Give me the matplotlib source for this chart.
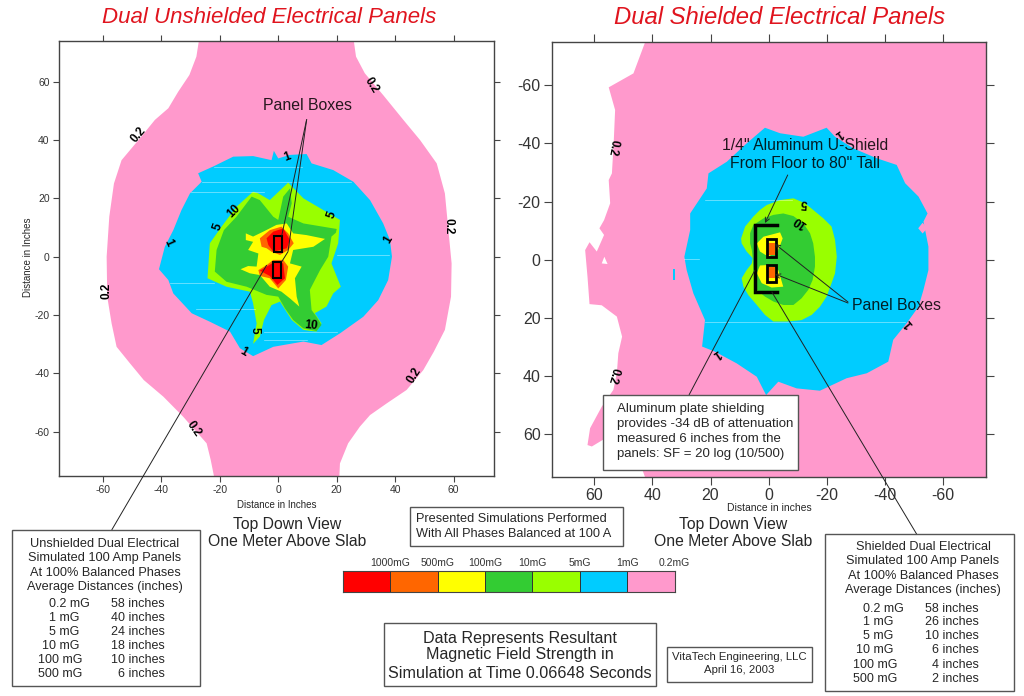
"""Simulated magnetic field contours around dual electrical panels, unshielded vs shielded."""

import matplotlib

matplotlib.use("Agg")
import matplotlib.pyplot as plt
from matplotlib.patches import Polygon, Rectangle

plt.rcParams["font.family"] = ["Liberation Sans", "DejaVu Sans"]
plt.rcParams["axes.unicode_minus"] = False

FIG_W, FIG_H = 1024, 696

LEVEL_NAMES = ["1000mG", "500mG", "100mG", "10mG", "5mG", "1mG", "0.2mG"]
LEVEL_COLORS = ["#ff0000", "#ff6600", "#ffff00", "#33cc33", "#99ff00", "#00ccff", "#ff99cc"]
RED, ORANGE, YELLOW, GREEN, LIME, BLUE, PINK = LEVEL_COLORS

TICKS = [-60, -40, -20, 0, 20, 40, 60]

# --- unshielded contours, inches ---
un_pink = [(-27, 75), (-28, 68.6), (-30.4, 62.3), (-34.2, 56.6), (-37.6, 50.9), (-42.2, 46.9),
           (-47.3, 40.6), (-53.6, 33.1), (-56.2, 25.1), (-57.8, 13.7), (-58.7, 0), (-58.5, -13.7),
           (-57, -22.9), (-55.3, -30.9), (-50.7, -36.6), (-46, -42.3), (-39.3, -48), (-32.5, -54.9),
           (-24.5, -64), (-23.1, -69.7), (-22, -75.2), (20.9, -75.2), (21.1, -70.9), (23.9, -64),
           (27.9, -58.3), (31.4, -54.3), (37.1, -50.3), (43.9, -45.7), (49.6, -38.9), (53.2, -32.6),
           (57, -25.1), (59.1, -13.7), (59.3, -2.3), (58.2, 9.1), (57, 21.7), (54.2, 32), (48.5, 40),
           (42.8, 46.9), (35.9, 55.4), (29.6, 62.9), (26.6, 68.6), (25.7, 75)]
un_blue = [(-40.8, -4.3), (-38.8, 3.4), (-35.9, 9.1), (-33.1, 16), (-30.2, 21.7), (-26.2, 25.7),
           (-27.4, 28.6), (-22.3, 30.9), (-15.4, 34.3), (-8.6, 34.5), (-2.3, 33.1), (-1.5, 36.3),
           (0, 33.7), (4, 34.9), (9.7, 35.2), (11.4, 32), (18.8, 29.7), (25.7, 25.7), (31.4, 19.4),
           (35.9, 11.4), (38.2, 5.7), (38.9, 0), (37.6, -8), (34.2, -14.9), (29.1, -20.6),
           (21.1, -26.3), (14.8, -30.3), (8.6, -29.1), (-1.7, -30.9), (-8.6, -34.1), (-13.1, -31.4),
           (-16.5, -25.7), (-23.4, -22.3), (-29.6, -19.4), (-35.9, -12.6), (-37.6, -8)]
un_lime = [(-24.2, -7.4), (-23.4, 4.6), (-19.4, 10.3), (-14.3, 17.1), (-8.6, 22.3), (-6.8, 21.7),
           (-2.9, 19.4), (3.4, 25.4), (8.6, 20), (15.4, 16), (21.1, 12.6), (20.5, 4.6), (18.2, -2.3),
           (21.4, -10.3), (18.8, -12.6), (16.5, -17.1), (12.5, -19.4), (14.8, -22.9), (13, -25.7),
           (8.6, -25.1), (4.6, -21.7), (0.6, -15.4), (-2.3, -16.6), (-4.9, -21.7), (-6.3, -27.4),
           (-8.6, -29.9), (-7.4, -22.9), (-8.6, -16), (-9.7, -12), (-17.7, -10.3)]
un_green = [(-21.7, -5.1), (-21.1, 2.3), (-18.6, 9.1), (-14.3, 13.7), (-9.1, 20.6), (-6.3, 19.4),
            (-1.7, 13.7), (0, 12.6), (1.7, 20.6), (4, 23.4), (4.6, 18.3), (3.4, 13.7), (8.6, 11.4),
            (20, 9.5), (19.7, 8.2), (18.2, 6.9), (17.1, 0), (14.3, -4.6), (10.8, -11.4), (11.4, -18.3),
            (13.1, -20.6), (14.8, -23.4), (13.1, -25.5), (8.6, -24.6), (5.1, -21.7), (2.3, -17.7),
            (0, -13.7), (-4, -13.1), (-10.8, -10.3), (-17.7, -8.6)]
un_yellow = [(-11.1, 8), (-8.6, 6.9), (-5.1, 8.6), (-0.6, 10.9), (2.9, 11.4), (5.1, 8), (9.7, 7.4),
             (16, 6.1), (12, 3.4), (5.1, 2.3), (4, -2.3), (8, -3.4), (5.7, -7.4), (6.3, -13.7),
             (7.2, -17.1), (4, -14.3), (1.1, -12), (-2.9, -10.3), (-6.3, -6.3), (-9.7, -5.7),
             (-12.9, -4.3), (-10.3, -3.2), (-7.4, -3.4), (-6.8, 1.1), (-10.3, 2.3), (-8.6, 5.1),
             (-11.1, 5.7)]
un_orange_top = [(-6.3, 6.3), (-2.9, 9.1), (1.1, 10.3), (3.4, 8), (5.3, 4.6), (3.4, 2.3), (0.6, 0.6),
                 (-2.3, 1.7), (-4, 2.9), (-5.7, 3.4)]
un_red_top = [(-4, 6.3), (-1.7, 8.6), (1.7, 9.7), (4, 5.7), (2.9, 2.9), (-1.7, 1.7), (-3.4, 4)]
un_orange_low = [(-6.8, -4.6), (-4, -2.9), (-1.7, -1.1), (1.7, -1.1), (3.4, -3.4), (2.6, -8), (0, -10.9),
                 (-2.9, -7.4), (-6.3, -6.6)]
un_red_low = [(-6.3, -4.8), (-4, -3.4), (-1.1, -1.7), (1.7, -2.3), (2.3, -7.4), (-0.3, -9.7), (-2.9, -6.6)]
un_boxes = [(-1.5, 1.5, 2.8, 5.7), (-1.7, -7.4, 2.7, 5.7)]
un_streaks = [(30.9, -22, 8), (25.7, -26, 25), (22.3, -30, -5), (-9, -37, -22), (-17.8, -28, -8),
              (-25.7, -5, 20), (-28.6, -5, 10), (0.5, 20, 38)]
un_labels = [("0.2", 31.9, 58.9, -58), ("0.2", -47.7, 41.9, 50), ("0.2", 58.2, 10.5, -90),
             ("0.2", -58.7, -11.8, 90), ("0.2", 46.4, -40.8, 58), ("0.2", -29.1, -59.2, -55),
             ("1", 3.1, 34.3, 20), ("1", -37.6, 4.8, -65), ("1", 37.6, 5.9, 60), ("1", -11.7, -32.6, -30),
             ("5", 18.2, 14.5, 70), ("5", -20.8, 10.3, 70), ("5", -8, -25.4, -90),
             ("10", -15.2, 15.7, 45), ("10", 11.2, -23.7, -5)]

# --- shielded contours, inches (both axes run the other way) ---
sh_pink = [(42.5, -74.8), (46.5, -64.1), (55, -59.3), (52.8, -51.5), (53.3, -40), (53.9, -29.7),
           (55, -27.4), (54.5, -19.4), (56.6, -13.6), (58.2, -10.8), (56.6, -8.5), (59.1, -2.8),
           (61.6, -6), (63.1, -3.3), (62.3, 5.8), (61.6, 15.3), (57.4, 15.7), (52.2, 19.6),
           (50.4, 26.5), (51.7, 32.2), (52.2, 39.1), (53.4, 44.8), (57.4, 50.6), (61.4, 58),
           (62.3, 63.8), (60.8, 64.3), (57, 62), (45, 68), (42.5, 74.9), (-74.8, 74.9), (-74.8, -74.8)]
sh_holes = [(56.5, -1), (55.4, 1.5), (57.4, 1.3)]
sh_blue = [(1.3, -45.4), (-3.9, -43.5), (-11.9, -42.3), (-19.9, -45.4), (-22.8, -42.3), (-29.1, -38.3),
           (-37.1, -34.9), (-44, -32.6), (-46.9, -26.3), (-51.5, -21.7), (-54.6, -15.9), (-53.2, -13.1),
           (-54.9, -4.5), (-54.9, 3.6), (-53.2, 10.4), (-51.5, 16.2), (-47.4, 21.9), (-42.8, 27.6),
           (-41.1, 35.1), (-33.7, 39.1), (-26.8, 40.8), (-17.6, 45.1), (-9.6, 44.3), (-3.3, 42),
           (0.9, 46.6), (4.1, 40.3), (11, 35.7), (18.4, 31.7), (22.9, 29.9), (21.9, 20.8), (25.9, 11.6),
           (28.2, 3.6), (29, -1), (27, -10.2), (27, -15.9), (21.3, -24.5), (20.7, -29.7), (14.4, -33.7),
           (7.6, -40)]
sh_blue_speck = [(32.9, 3.3), (32.1, 3.3), (32.1, 7), (32.9, 7)]
sh_pink_speck = [(-51.4, -10.8), (-52.9, -12.7), (-54.5, -10.8), (-52.9, -9)]
sh_lime = [(9.5, -7.3), (8.1, -11.4), (5.3, -14.8), (3, -17.1), (0.7, -18.8), (-3.9, -20.5), (-8.5, -21.1),
           (-12.5, -19.4), (-15.3, -17.1), (-18.8, -14.2), (-21.6, -11.4), (-22.8, -6.8), (-23.4, -1),
           (-22.8, 4.7), (-21.6, 8.1), (-19.9, 12.7), (-17.6, 16.2), (-14.8, 19), (-11.3, 20.8), (-6.2, 21.3),
           (-1.6, 21.3), (1.3, 19), (4.1, 15.6), (7, 12.2), (8.7, 9.3), (9.3, 6.4), (7.6, 3.6), (5.8, 1.3),
           (5.5, -0.5), (7.6, -2.8), (9.3, -5.6)]
sh_green = [(6.4, -5.6), (6.4, -9.1), (5.3, -11.9), (1.8, -14.2), (-1.6, -15.4), (-5, -15.9), (-8.5, -15),
            (-11.9, -12.5), (-14.2, -9.1), (-15.3, -5.6), (-15.9, -1), (-15.9, 2.4), (-15.1, 7), (-13.6, 10.4),
            (-11.3, 13.3), (-8.5, 15.6), (-5, 15.6), (-1.6, 14.4), (1.3, 12.7), (4.1, 10.4), (5, 7), (5.3, 3),
            (5.5, -0.5), (5.8, -3.3)]
sh_yellow_top = [(4.1, -5.6), (1.8, -7.9), (-3.9, -9.4), (-4.8, -7.3), (-3.3, -3.3), (0.1, -1), (3, -2.8)]
sh_yellow_low = [(4.1, 4.7), (3, 2), (-0.5, 1.8), (-3.3, 3.6), (-5, 9.3), (-1, 9.6), (2.4, 8.1)]
sh_orange_top = [(0.5, -5.6), (-2.2, -5.6), (-2.2, -1.6), (0.5, -1.6)]
sh_orange_low = [(0.5, 2.6), (-2.2, 2.6), (-2.2, 6.4), (0.5, 6.4)]
sh_boxes = [(0.7, -7, -3.1, 6), (0.7, 1.8, -3.1, 6)]
sh_shield_x = [-2.7, 4.6, 4.6, -2.7]
sh_shield_y = [-11.9, -11.9, 11, 11]
sh_streaks = [(-20.5, 22, -8), (21.3, 22, -47), (-0.2, 29, 24)]
sh_labels = [("0.2", 53.6, -38.6, -100), ("0.2", 53.4, 39.9, -105), ("1", -23.9, -43.5, 215),
             ("1", -48, 21.9, 130), ("1", 17.9, 32.2, 215), ("5", -12.1, -19.6, 175), ("10", -10.8, -13.1, 145)]

unshielded_rows = [("0.2 mG", "58 inches", 90), ("1 mG", "40 inches", 79.3), ("5 mG", "24 inches", 79.3),
                   ("10 mG", "18 inches", 79.3), ("100 mG", "10 inches", 82.7), ("500 mG", "6 inches", 82.7)]
shielded_rows = [("0.2 mG", "58 inches", 904), ("1 mG", "26 inches", 893), ("5 mG", "10 inches", 893),
                 ("10 mG", "6 inches", 893), ("100 mG", "4 inches", 897), ("500 mG", "2 inches", 897)]


def _add_axes(fig, x0, y0, x1, y1):
    # pixel box, y measured from the top of the picture
    return fig.add_axes([x0 / FIG_W, 1 - y1 / FIG_H, (x1 - x0) / FIG_W, (y1 - y0) / FIG_H])


def _fill(ax, points, color, zorder):
    ax.add_patch(Polygon(points, closed=True, facecolor=color, edgecolor="none", zorder=zorder))


def _style_axes(ax, tick_size, tick_len):
    ax.set_xticks(TICKS)
    ax.set_yticks(TICKS)
    ax.tick_params(top=True, right=True, length=tick_len, width=0.8, color="#444444",
                   labelsize=tick_size, labelcolor="#333333", pad=2)
    for spine in ax.spines.values():
        spine.set_color("#444444")
        spine.set_linewidth(1.0)
        spine.set_zorder(20)


def _contour_labels(ax, labels):
    for text, x, y, rot in labels:
        ax.text(x, y, text, fontsize=8.5, fontweight="bold", rotation=rot, ha="center", va="center",
                rotation_mode="anchor", color="black", zorder=12)


def _streaks(ax, streaks):
    for y, x0, x1 in streaks:
        ax.plot([x0, x1], [y, y], color="white", lw=0.5, alpha=0.55, zorder=9)


def _boxes(ax, boxes, lw):
    for x, y, w, h in boxes:
        ax.add_patch(Rectangle((x, y), w, h, fill=False, edgecolor="black", lw=lw, zorder=13))


def _frame(ov, x0, y0, x1, y1, lw=1.0):
    ov.add_patch(Rectangle((x0, y0), x1 - x0, y1 - y0, facecolor="white", edgecolor="#555555", lw=lw, zorder=5))


def _line(ov, x0, y0, x1, y1, color="#222222", lw=0.7, arrow=False):
    if arrow:
        ov.annotate("", xy=(x1, y1), xytext=(x0, y0), zorder=3,
                    arrowprops=dict(arrowstyle="->", mutation_scale=8, color=color, lw=lw, shrinkA=0, shrinkB=0))
    else:
        ov.plot([x0, x1], [y0, y1], color=color, lw=lw, zorder=3, solid_capstyle="butt")


fig = plt.figure(figsize=(FIG_W / 100, FIG_H / 100), dpi=100, facecolor="white")

# left panel
ax_un = _add_axes(fig, 58.7, 40.7, 494.3, 476)
ax_un.set_xlim(-75.1, 73.9)
ax_un.set_ylim(-75.2, 74.06)
_style_axes(ax_un, 7.5, 4.5)
ax_un.tick_params(labelright=False, labeltop=False)
for pts, color, z in [(un_pink, PINK, 2), (un_blue, BLUE, 3), (un_lime, LIME, 4), (un_green, GREEN, 5),
                      (un_yellow, YELLOW, 6), (un_orange_top, ORANGE, 7), (un_orange_low, ORANGE, 7),
                      (un_red_top, RED, 8), (un_red_low, RED, 8)]:
    _fill(ax_un, pts, color, z)
_streaks(ax_un, un_streaks)
_boxes(ax_un, un_boxes, 1.5)
_contour_labels(ax_un, un_labels)

# right panel
ax_sh = _add_axes(fig, 551.7, 42.3, 986.3, 477.3)
ax_sh.set_xlim(74.6, -74.8)
ax_sh.set_ylim(74.9, -74.8)
_style_axes(ax_sh, 11.5, 6)
ax_sh.tick_params(labelright=False, labeltop=False)
for pts, color, z in [(sh_pink, PINK, 2), (sh_holes, "white", 3), (sh_blue, BLUE, 3), (sh_blue_speck, BLUE, 3),
                      (sh_pink_speck, PINK, 4), (sh_lime, LIME, 4), (sh_green, GREEN, 5),
                      (sh_yellow_top, YELLOW, 6), (sh_yellow_low, YELLOW, 6),
                      (sh_orange_top, ORANGE, 7), (sh_orange_low, ORANGE, 7)]:
    _fill(ax_sh, pts, color, z)
_streaks(ax_sh, sh_streaks)
_boxes(ax_sh, sh_boxes, 2.0)
ax_sh.plot(sh_shield_x, sh_shield_y, color="black", lw=2.5, zorder=13, solid_joinstyle="miter")
_contour_labels(ax_sh, sh_labels)

# colour key
ax_key = _add_axes(fig, 342.7, 571, 674.7, 592)
ax_key.bar(range(len(LEVEL_COLORS)), [1] * len(LEVEL_COLORS), width=1, align="edge", color=LEVEL_COLORS,
           edgecolor="#333333", linewidth=0.7)
ax_key.set_xlim(0, len(LEVEL_COLORS))
ax_key.set_ylim(0, 1)
ax_key.set_yticks([])
ax_key.set_xticks(range(1, len(LEVEL_NAMES) + 1), LEVEL_NAMES)
ax_key.xaxis.tick_top()
ax_key.tick_params(axis="x", length=0, labelsize=7.5, labelcolor="#333333", pad=2.5)
for spine in ax_key.spines.values():
    spine.set_color("#444444")

# annotation layer, in picture pixels
ov = fig.add_axes([0, 0, 1, 1], zorder=10)
ov.set_xlim(0, FIG_W)
ov.set_ylim(FIG_H, 0)
ov.axis("off")
ov.patch.set_alpha(0)

_line(ov, 111.7, 530, 266.7, 265)
_line(ov, 306.7, 119.3, 281.7, 235.7)
_line(ov, 306.7, 119.3, 288, 251.7)
_line(ov, 288, 251.7, 281.7, 261.7)
_line(ov, 689, 395, 755, 270, lw=0.7)
_line(ov, 917, 534.7, 771.7, 291.7, lw=0.7)
_line(ov, 787.7, 175, 765, 223, arrow=True)
_line(ov, 848, 302, 775, 244, arrow=True)
_line(ov, 848, 303, 775, 274, arrow=True)

TITLE_RED = "#e0141e"
for text, x, size in [("Dual Unshielded Electrical Panels", 269, 16), ("Dual Shielded Electrical Panels", 779.5, 17.2)]:
    ov.text(x, 17.5, text, fontsize=size, style="italic", color=TITLE_RED, ha="center", va="center")


def _label(x, y, text, size, ha="center", alpha=0.85, **kw):
    ov.text(x, y, text, fontsize=size, ha=ha, va="center", color="black", alpha=alpha, zorder=6, **kw)


_label(307.5, 106, "Panel Boxes", 11.4)
_label(805, 146, "1/4\" Aluminum U-Shield", 11.3)
_label(805, 164, "From Floor to 80\" Tall", 11.3)
_label(852, 305, "Panel Boxes", 11.4, ha="left")

_label(28, 257, "Distance in Inches", 7, rotation=90)
_label(277, 505, "Distance in Inches", 7)
_label(769.5, 508, "Distance in inches", 7.5)

for cx in [287, 733]:
    _label(cx, 524, "Top Down View", 11.3)
    _label(cx, 542, "One Meter Above Slab", 11.3)

_frame(ov, 410, 507, 623, 546)
_label(416, 519.5, "Presented Simulations Performed", 9.2, ha="left")
_label(416, 534, "With All Phases Balanced at 100 A", 9.2, ha="left")

_frame(ov, 384, 623, 656, 686)
for y, text in zip([638, 655, 673], ["Data Represents Resultant", "Magnetic Field Strength in",
                                     "Simulation at Time 0.06648 Seconds"]):
    _label(520, y, text, 11.6)

_frame(ov, 667, 647, 812, 682)
_label(739.5, 657, "VitaTech Engineering, LLC", 8.2)
_label(739.5, 670, "April 16, 2003", 8.2)

_frame(ov, 603, 395, 798, 470)
for y, text in zip([409, 424, 439, 454], ["Aluminum plate shielding", "provides -34 dB of attenuation",
                                          "measured 6 inches from the", "panels: SF = 20 log (10/500)"]):
    _label(617, y, text, 9.5, ha="left")

_frame(ov, 11.7, 530, 200, 686)
for y, text in zip([544, 558, 573, 587], ["Unshielded Dual Electrical", "Simulated 100 Amp Panels",
                                          "At 100% Balanced Phases", "Average Distances (inches)"]):
    _label(105, y, text, 9.2)
for y, (level, dist, right) in zip([604, 618, 632, 646, 660, 674], unshielded_rows):
    _label(right, y, level, 9, ha="right")
    _label(165, y, dist, 9, ha="right")

_frame(ov, 825, 534, 1014, 691)
for y, text in zip([547, 561, 576, 590], ["Shielded Dual Electrical", "Simulated 100 Amp Panels",
                                          "At 100% Balanced Phases", "Average Distances (inches)"]):
    _label(923, y, text, 9.2)
for y, (level, dist, right) in zip([609, 622, 636, 650, 665, 679], shielded_rows):
    _label(right, y, level, 9, ha="right")
    _label(979, y, dist, 9, ha="right")

fig.savefig("out.png", dpi=100, facecolor="white")
plt.close(fig)
